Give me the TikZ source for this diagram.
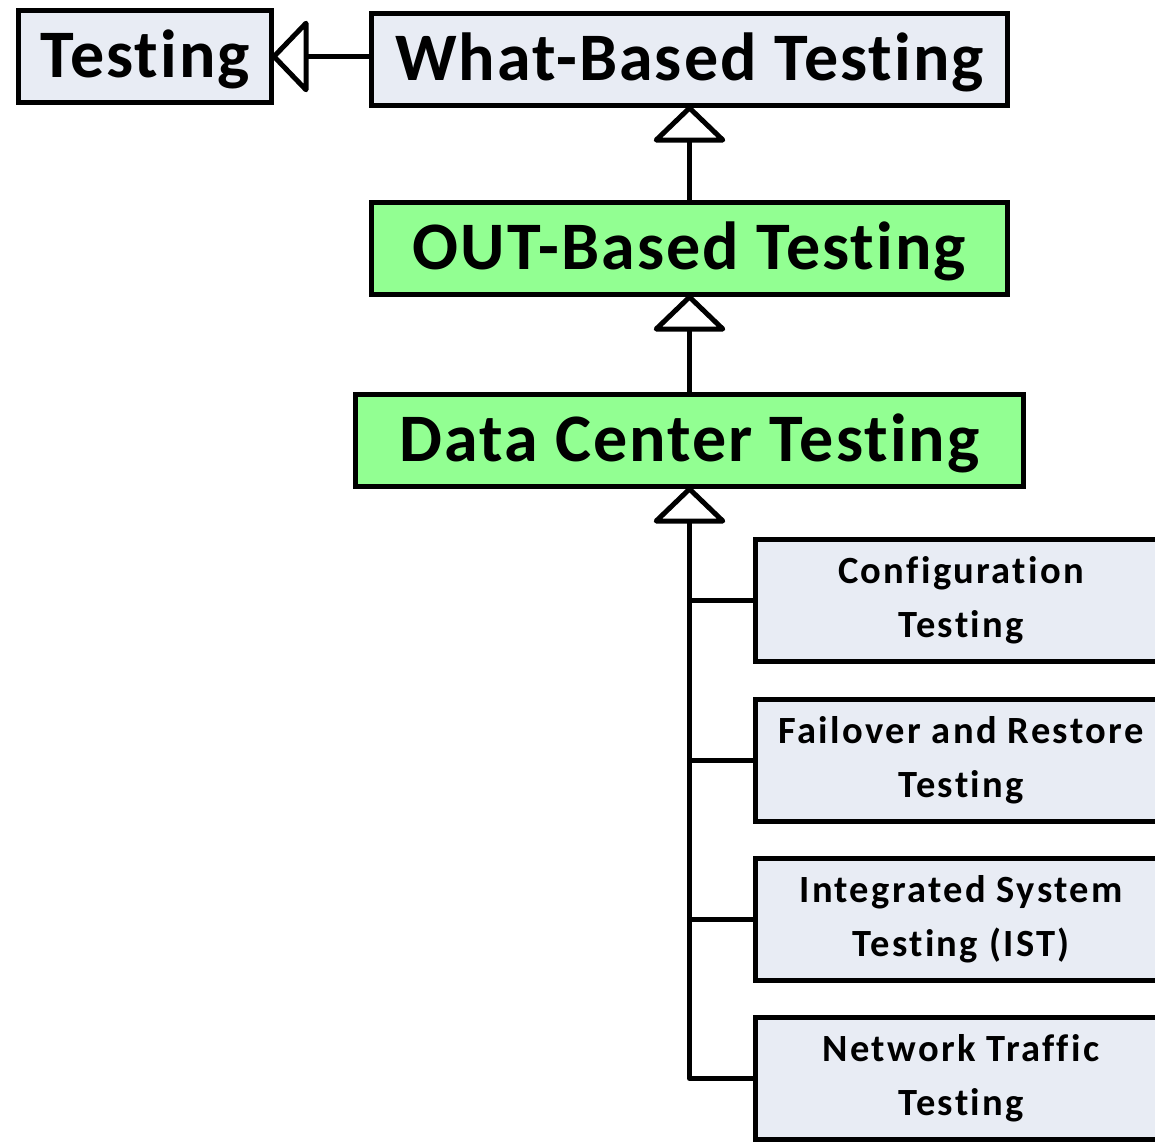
\documentclass[tikz,border=0pt]{standalone}
\usepackage{fontspec}
\setmainfont{Carlito}[Ligatures=NoCommon]
\newfontfamily\bigfont{Carlito}[LetterSpace=3, Ligatures=NoCommon]
\newfontfamily\smallfont{Carlito}[LetterSpace=6, Ligatures=NoCommon]
\usetikzlibrary{arrows.meta}
\definecolor{boxgray}{RGB}{232,236,244}
\definecolor{boxgreen}{RGB}{146,255,146}
\begin{document}
\begin{tikzpicture}[x=1pt,y=-1pt,
  every node/.style={inner sep=0pt, outer sep=0pt},
  bigbox/.style={draw=black, line width=5pt, fill=boxgray, minimum height=92pt,
    text height=51pt, text depth=9pt,
    font=\bigfont\fontsize{68}{72}\selectfont\bfseries},
  greenbox/.style={bigbox, fill=boxgreen},
  smallbox/.style={draw=black, line width=5pt, fill=boxgray, minimum width=411pt, minimum height=122pt,
    align=center, font=\smallfont\fontsize{38.5}{54}\selectfont\bfseries},
  conn/.style={line width=5pt, line join=round},
  inherit/.style={conn, -{Triangle[open, length=38pt, width=78pt, round]}}
]
\useasboundingbox (0,0) rectangle (1155,1141);
\clip (0,0) rectangle (1155,1141);
\fill[white] (0,0) rectangle (1155,1141);

\node[bigbox, minimum width=253pt] (testing) at (145,56.5) {Testing};
\node[bigbox, minimum width=636pt] (what) at (689.5,59.5) {What-Based Testing};
\node[greenbox, minimum width=636pt] (out) at (689.5,248.5) {OUT-Based Testing};
\node[greenbox, minimum width=668pt] (dc) at (689.5,440.5) {Data Center Testing};

\node[smallbox] (c1) at (961,600) {Configuration\\Testing};
\node[smallbox] (c2) at (961,760) {Failover and Restore\\Testing};
\node[smallbox] (c3) at (961,919) {Integrated System\\Testing (IST)};
\node[smallbox] (c4) at (961,1078.5) {Network Traffic\\Testing};

\draw[inherit] (testing.east -| what.west) -- (testing.east);
\draw[inherit] (out.north) -- (what.south);
\draw[inherit] (dc.north) -- (out.south);
\draw[inherit] (c4.west) -| (dc.south);
\draw[conn] (c1.west) -- (c1.west -| dc.south);
\draw[conn] (c2.west) -- (c2.west -| dc.south);
\draw[conn] (c3.west) -- (c3.west -| dc.south);
\end{tikzpicture}
\end{document}
